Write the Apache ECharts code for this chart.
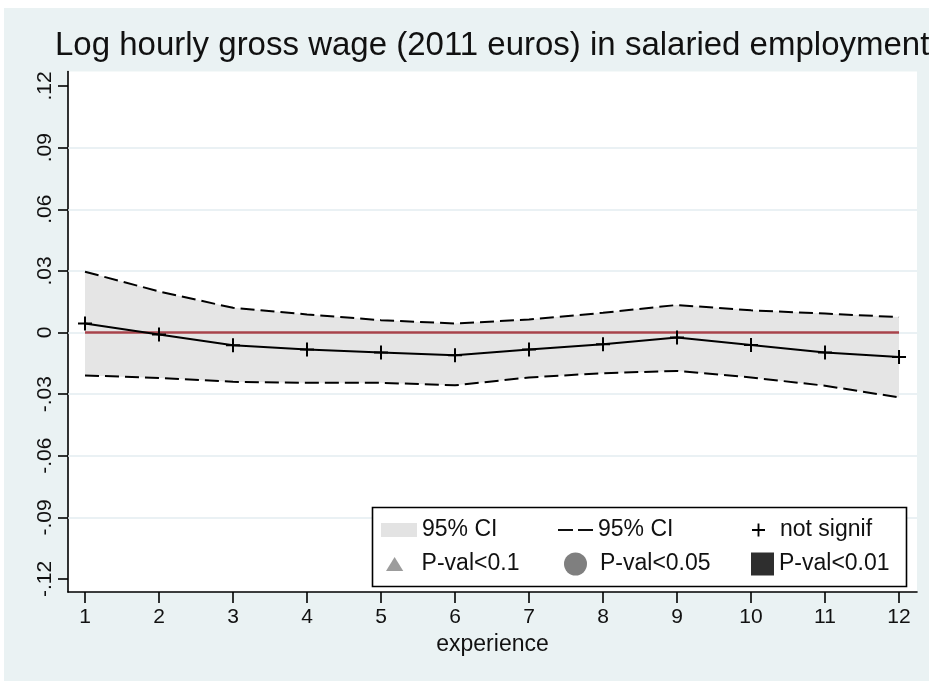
<!DOCTYPE html>
<html>
<head>
<meta charset="utf-8">
<script src="https://cdn.jsdelivr.net/npm/echarts@6/dist/echarts.min.js"></script>
<style>
html,body{margin:0;padding:0;background:#fff;}
#chart{width:929px;height:681px;}
</style>
</head>
<body>
<div id="chart"></div>
<script>
// ---- data ----
var experience = [1, 2, 3, 4, 5, 6, 7, 8, 9, 10, 11, 12];
var estimate = [0.0044, -0.0010, -0.0062, -0.0083, -0.0097, -0.0111, -0.0083, -0.0057, -0.0024, -0.0061, -0.0097, -0.0119];
var ciUpper  = [0.0296, 0.0200, 0.0120, 0.0088, 0.0060, 0.0044, 0.0063, 0.0096, 0.0134, 0.0108, 0.0092, 0.0075];
var ciLower  = [-0.0209, -0.0221, -0.0240, -0.0245, -0.0245, -0.0257, -0.0219, -0.0198, -0.0187, -0.0219, -0.0259, -0.0316];
var yTicks = [-0.12, -0.09, -0.06, -0.03, 0, 0.03, 0.06, 0.09, 0.12];
var yTickLabels = ['-.12', '-.09', '-.06', '-.03', '0', '.03', '.06', '.09', '.12'];
var yGrid = [-0.09, -0.06, -0.03, 0, 0.03, 0.06, 0.09];
var titleText = 'Log hourly gross wage (2011 euros) in salaried employment';
var xTitle = 'experience';

// ---- build ----
function pairs(vals) { return experience.map(function (x, i) { return [x, vals[i]]; }); }
var bandData = experience.map(function (x, i) { return [x, ciLower[i], ciUpper[i]]; });
var plusPath = 'path://M6,0H8V6H14V8H8V14H6V8H0V6H6Z';
var dashPath = 'path://M0,0H15V2H0Z M20,0H35V2H20Z';
var TXT = '#111';
var FONT = 'Liberation Sans';

var chart = echarts.init(document.getElementById('chart'), null, {renderer: 'canvas'});
var legendBase = {
  orient: 'horizontal', padding: 0, selectedMode: false, z: 30,
  textStyle: {fontSize: 23, color: TXT, fontFamily: FONT, lineHeight: 24}
};
function mkLegend(o) {
  var l = JSON.parse(JSON.stringify(legendBase));
  for (var k in o) if (k !== 'textPad') l[k] = o[k];
  if (o.textPad) { l.textStyle.padding = [0, 0, 0, o.textPad]; }
  return l;
}

chart.setOption({
  animation: false,
  backgroundColor: '#EAF2F3',
  title: {
    text: titleText, left: 55, top: 29, padding: 0,
    textStyle: {fontSize: 33, fontWeight: 'normal', color: TXT, fontFamily: FONT}
  },
  grid: {left: 68, right: 12, top: 71.5, bottom: 89, show: true, backgroundColor: '#fff', borderWidth: 0},
  xAxis: {
    type: 'value', min: 0.7703, max: 12.243,
    name: xTitle, nameLocation: 'middle', nameGap: 38,
    nameTextStyle: {fontSize: 23, color: TXT, fontFamily: FONT},
    axisLine: {show: true, onZero: false, lineStyle: {color: '#000', width: 1.6}},
    axisTick: {show: true, length: 11, lineStyle: {color: '#000', width: 1.6}, customValues: experience},
    axisLabel: {fontSize: 21, color: TXT, fontFamily: FONT, margin: 15, customValues: experience},
    splitLine: {show: false}
  },
  yAxis: {
    type: 'value', min: -0.12633, max: 0.12706,
    axisLine: {show: true, onZero: false, lineStyle: {color: '#000', width: 1.6}},
    axisTick: {show: true, length: 10, lineStyle: {color: '#000', width: 1.6}, customValues: yTicks},
    axisLabel: {
      fontSize: 21, color: TXT, fontFamily: FONT, rotate: 90, margin: 12, customValues: yTicks,
      formatter: function (v) {
        for (var i = 0; i < yTicks.length; i++) if (Math.abs(yTicks[i] - v) < 1e-9) return yTickLabels[i];
        return '';
      }
    },
    splitLine: {show: false}
  },
  legend: [
    mkLegend({left: 381, top: 518, itemWidth: 36, itemHeight: 14,
      data: [{name: 'ci_band', icon: 'rect', itemStyle: {color: '#e3e3e3', opacity: 1}}], formatter: '95% CI'}),
    mkLegend({left: 558, top: 518, itemWidth: 35, itemHeight: 2,
      data: [{name: 'ci_bounds', icon: dashPath, itemStyle: {color: '#111', opacity: 1}}], formatter: '95% CI'}),
    mkLegend({left: 752, top: 518, itemWidth: 13, itemHeight: 13, textPad: 10,
      data: [{name: 'not signif', icon: plusPath, itemStyle: {color: '#000', opacity: 1}}]}),
    mkLegend({left: 386, top: 552, itemWidth: 18, itemHeight: 14, textPad: 13,
      data: [{name: 'P-val<0.1', icon: 'path://M8,0L16,13L0,13Z', itemStyle: {color: '#9c9c9c', opacity: 1}}]}),
    mkLegend({left: 564, top: 552, itemWidth: 23, itemHeight: 23, textPad: 8,
      data: [{name: 'P-val<0.05', icon: 'circle', itemStyle: {color: '#7f7f7f', opacity: 1}}]}),
    mkLegend({left: 751, top: 552, itemWidth: 23, itemHeight: 23,
      data: [{name: 'P-val<0.01', icon: 'rect', itemStyle: {color: '#2e2e2e', opacity: 1}}]})
  ],
  graphic: {
    elements: [
      {type: 'rect', z: 100, shape: {x: 0, y: 0, width: 929, height: 8}, style: {fill: '#fff'}, silent: true},
      {type: 'rect', z: 100, shape: {x: 0, y: 0, width: 4, height: 681}, style: {fill: '#fff'}, silent: true},
      {type: 'rect', z: 10, shape: {x: 372.5, y: 507.5, width: 534, height: 79}, style: {fill: '#fff', stroke: '#000', lineWidth: 1.6}, silent: true}
    ]
  },
  series: [
    {
      name: 'ci_band', type: 'custom', z: 2, silent: true, color: '#e5e5e5',
      data: bandData,
      encode: {x: 0, y: [1, 2]},
      renderItem: function (params, api) {
        if (params.dataIndex !== 0) return null;
        var pts = [];
        var i;
        for (i = 0; i < bandData.length; i++) pts.push(api.coord([bandData[i][0], bandData[i][2]]));
        for (i = bandData.length - 1; i >= 0; i--) pts.push(api.coord([bandData[i][0], bandData[i][1]]));
        return {type: 'polygon', shape: {points: pts}, style: {fill: '#e5e5e5'}};
      },
      markLine: {
        silent: true, symbol: 'none', label: {show: false}, animation: false, z: 1,
        lineStyle: {color: '#e3edf0', width: 1.5, type: 'solid'},
        data: yGrid.map(function (v) { return {yAxis: v}; })
      }
    },
    {
      name: 'ci_bounds', type: 'line', z: 3, data: pairs(ciUpper), symbol: 'none', color: '#000',
      lineStyle: {color: '#000', width: 2, type: [14, 6]}, silent: true,
      markLine: {
        silent: true, symbol: 'none', label: {show: false}, animation: false,
        lineStyle: {color: '#a8434b', width: 2.5, type: 'solid'},
        data: [[{coord: [experience[0], 0]}, {coord: [experience[experience.length - 1], 0]}]]
      }
    },
    {
      name: 'ci_bounds', type: 'line', z: 3, data: pairs(ciLower), symbol: 'none', color: '#000',
      lineStyle: {color: '#000', width: 2, type: [14, 6]}, silent: true
    },
    {
      name: 'not signif', type: 'line', z: 5, data: pairs(estimate), color: '#000',
      symbol: plusPath, symbolSize: 14, showAllSymbol: true,
      itemStyle: {color: '#000'}, lineStyle: {color: '#000', width: 2}, silent: true
    },
    {name: 'P-val<0.1', type: 'scatter', data: [], color: '#9c9c9c', itemStyle: {opacity: 1}},
    {name: 'P-val<0.05', type: 'scatter', data: [], color: '#7f7f7f', itemStyle: {opacity: 1}},
    {name: 'P-val<0.01', type: 'scatter', data: [], color: '#2e2e2e', itemStyle: {opacity: 1}}
  ]
});
</script>
</body>
</html>
